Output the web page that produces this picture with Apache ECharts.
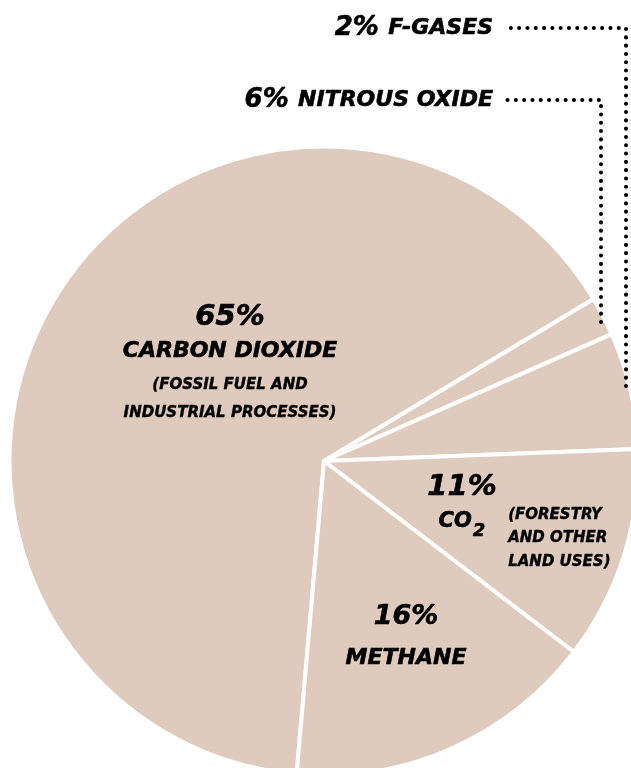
<!DOCTYPE html>
<html><head><meta charset="utf-8">
<script src="https://cdn.jsdelivr.net/npm/echarts@6/dist/echarts.min.js"></script>
<style>html,body{margin:0;padding:0;background:#fff}#c{width:631px;height:768px}</style>
</head><body><div id="c"></div>
<script>
// Data
const categories = ['CARBON DIOXIDE', 'F-GASES', 'NITROUS OXIDE', 'CO', 'METHANE'];
const shares = [65, 2, 6, 11, 16];
const notes = ['(FOSSIL FUEL AND\nINDUSTRIAL PROCESSES)', '', '', '(FORESTRY\nAND OTHER\nLAND USES)', ''];
const outsideLabel = [false, true, true, false, false];

const FONT = '"DejaVu Sans", sans-serif';
const base = {fontFamily: FONT, fontStyle: 'italic', fontWeight: 'bold', color: '#000', textBorderColor: '#000', textBorderWidth: 0.6};
const rich = {
  p: Object.assign({}, base, {fontSize: 29, lineHeight: 34}),
  pm: Object.assign({}, base, {fontSize: 27, lineHeight: 40}),
  n: Object.assign({}, base, {fontSize: 22, lineHeight: 34}),
  nm: Object.assign({}, base, {fontSize: 22, lineHeight: 42}),
  s1: Object.assign({}, base, {fontSize: 15, lineHeight: 34, textBorderWidth: 0.4}),
  s2: Object.assign({}, base, {fontSize: 15, lineHeight: 22, textBorderWidth: 0.4}),
  co: Object.assign({}, base, {fontSize: 21, lineHeight: 36}),
  sub: Object.assign({}, base, {fontSize: 18, lineHeight: 36, verticalAlign: 'bottom', padding: [0, 0, 0, 1]}),
  tp: Object.assign({}, base, {fontSize: 26, lineHeight: 34}),
  tn: Object.assign({}, base, {fontSize: 22, lineHeight: 34, padding: [0, 0, 0, 6]})
};

function fmt(i) {
  const v = shares[i] + '%';
  const name = categories[i];
  if (i === 0) {
    const nl = notes[0].split('\n');
    return '{p|' + v + '}\n{n|' + name + '}\n{s1|' + nl[0] + '}\n{s2|' + nl[1] + '}';
  }
  if (i === 1 || i === 2) return '{tp|' + v + '} {tn|' + name + '}';
  if (i === 3) return '{p|' + v + '}\n{co|' + name + '}{sub|2}';
  return '{pm|' + v + '}\n{nm|' + name + '}';
}

const labelPos = [
  {x: 230, y: 300, align: 'center', verticalAlign: 'top'},
  {x: 493, y: 28, align: 'right', verticalAlign: 'middle', labelLinePoints: [[626, 386], [626, 28], [503, 28]]},
  {x: 493, y: 100, align: 'right', verticalAlign: 'middle', labelLinePoints: [[601, 322], [601, 100], [507, 100]]},
  {x: 462, y: 470, align: 'center', verticalAlign: 'top'},
  {x: 406, y: 597, align: 'center', verticalAlign: 'top'}
];

const dotted = {color: '#000', width: 4, type: [0.1, 8.2], cap: 'round'};

const pieCommon = {
  type: 'pie',
  center: [324, 461],
  radius: 314.5,
  startAngle: 265,
  clockwise: true,
  avoidLabelOverlap: false,
  silent: true,
  emphasis: {disabled: true},
  labelLayout: function (params) {
    return labelPos[params.dataIndex];
  }
};

const chart = echarts.init(document.getElementById('c'), null, {renderer: 'canvas'});
chart.setOption({
  backgroundColor: '#fff',
  animation: false,
  series: [
    Object.assign({}, pieCommon, {
      z: 2,
      itemStyle: {color: '#dfcbbd', borderColor: '#fff', borderWidth: 4},
      data: shares.map(function (v, i) {
        return {
          value: v,
          name: categories[i],
          label: {show: !outsideLabel[i], position: 'inside', formatter: fmt(i), rich: rich},
          labelLine: {show: false}
        };
      })
    }),
    Object.assign({}, pieCommon, {
      z: 5,
      itemStyle: {color: 'rgba(0,0,0,0)', borderWidth: 0},
      data: shares.map(function (v, i) {
        return {
          value: v,
          name: categories[i],
          label: {show: outsideLabel[i], position: 'outside', formatter: fmt(i), rich: rich},
          labelLine: {show: outsideLabel[i], lineStyle: dotted}
        };
      })
    })
  ],
  graphic: [{
    type: 'text',
    left: 508,
    top: 503,
    z: 100,
    silent: true,
    style: {
      text: notes[3],
      fontFamily: FONT,
      fontStyle: 'italic',
      fontWeight: 'bold',
      fontSize: 15,
      fill: '#000',
      stroke: '#000',
      lineWidth: 0.4,
      lineHeight: 23.5
    }
  }]
});
</script>
</body></html>
